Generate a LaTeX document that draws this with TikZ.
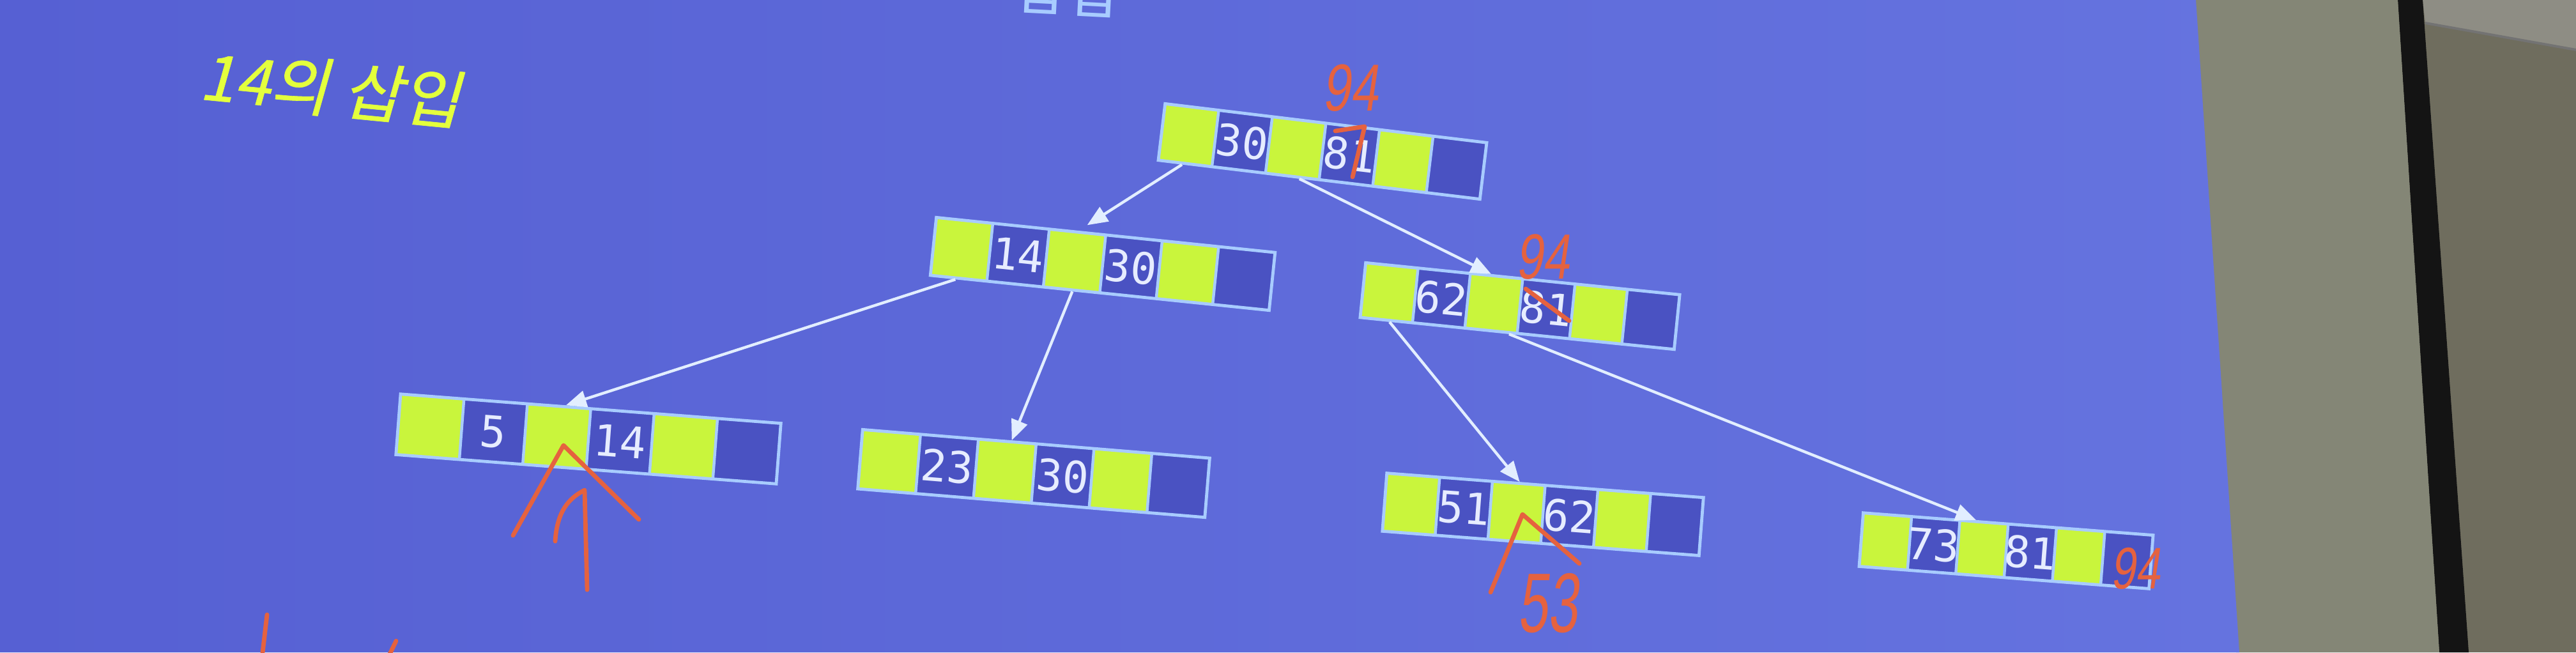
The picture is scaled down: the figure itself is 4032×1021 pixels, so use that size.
\documentclass[tikz,border=0pt]{standalone}
\usepackage{fontspec}
\usetikzlibrary{arrows.meta,calc}
\newfontfamily\keyfont{DejaVu Sans Mono}
\newfontfamily\krfont[FakeSlant=0.18,FakeBold=0.6]{Noto Sans CJK KR}
\newfontfamily\krtitle{Noto Sans CJK KR}
\newfontfamily\handfont[FakeSlant=0.15,FakeStretch=0.75]{Liberation Sans}
\newfontfamily\handnarrow[FakeSlant=0.12,FakeStretch=0.64]{Liberation Sans}

\definecolor{slideL}{HTML}{5660D3}
\definecolor{slideR}{HTML}{6573DF}
\definecolor{cellYc}{HTML}{C9F53C}
\definecolor{cellBc}{HTML}{4A52C2}
\definecolor{cellEdgec}{HTML}{A8CCFF}
\definecolor{linkc}{HTML}{E2EEFF}
\definecolor{keyc}{HTML}{E6ECFF}
\definecolor{inkc}{HTML}{E5623F}
\definecolor{titlec}{HTML}{E4FF3C}
\definecolor{panelc}{HTML}{848676}
\definecolor{wallc}{HTML}{6F6D5E}
\definecolor{ceilc}{HTML}{8E8D84}

\tikzset{
  cellY/.style={fill=cellYc},
  cellB/.style={fill=cellBc},
  celledge/.style={draw=cellEdgec,line width=1.1pt},
  nodebox/.style={draw=cellEdgec,line width=1.2pt,inner sep=0pt,transform shape},
  keytext/.style={text=keyc,font=\keyfont\fontsize{17}{17}\selectfont,inner sep=0pt,transform shape},
  link/.style={draw=linkc,line width=1.1pt,-{Triangle[length=8pt,width=6.5pt]}},
  inkline/.style={draw=inkc,line width=1.7pt,line cap=round,line join=round},
  handtxt/.style={text=inkc,inner sep=0pt},
}

\newcommand\btnode[9]{%
  \begin{scope}[shift={(#2,#3)},rotate=-#4]
    \pgfmathsetmacro\cw{#5/6}
    \pgfmathsetmacro\hh{#6/2}
    \pgfmathsetmacro\xl{-#5/2}
    \foreach \i in {0,2,4}{\fill[cellY] ({\xl+\i*\cw},-\hh) rectangle ({\xl+(\i+1)*\cw},\hh);}
    \foreach \i in {1,3,5}{\fill[cellB] ({\xl+\i*\cw},-\hh) rectangle ({\xl+(\i+1)*\cw},\hh);}
    \foreach \i in {1,...,5}{\draw[celledge] ({\xl+\i*\cw},-\hh) -- ({\xl+\i*\cw},\hh);}
    \node[nodebox,minimum width=#5*0.25pt,minimum height=#6*0.25pt] (#1) at (0,0) {};
    \node[keytext] at ({\xl+1.5*\cw},0) {#7};
    \node[keytext] at ({\xl+3.5*\cw},0) {#8};
    \node[keytext] at ({\xl+5.5*\cw},0) {#9};
  \end{scope}}

\begin{document}
\begin{tikzpicture}[x=0.25pt,y=-0.25pt]
\useasboundingbox (0,0) rectangle (4032,1021);
\clip (0,0) rectangle (4032,1021);

% room and screen
\fill[wallc] (3700,0) rectangle (4032,1021);
\fill[ceilc] (3792,0) -- (4032,0) -- (4032,78) -- (3796,36) -- cycle;
\draw[black!55,line width=1pt] (3796,36) -- (4032,78);
\fill[black!92] (3753,0) -- (3792,0) -- (3864,1021) -- (3818,1021) -- cycle;
\fill[panelc] (3430,0) -- (3753,0) -- (3818,1021) -- (3500,1021) -- cycle;
\shade[left color=slideL,right color=slideR] (0,0) -- (3437,0) -- (3505,1021) -- (0,1021) -- cycle;

% titles
\node[text=cellEdgec,font=\krtitle\fontsize{22}{22}\selectfont,anchor=base,rotate=-3,inner sep=0pt] (title) at (1668,18) {삽입};
\node[text=titlec,font=\krfont\fontsize{25}{25}\selectfont,rotate=-5.6,inner sep=0pt] (sub) at (518,138) {14의 삽입};

% B-tree nodes
\btnode{root}{2070}{237}{6.9}{507}{89}{30}{81}{}
\btnode{l1a}{1726}{413}{5.9}{533}{91}{14}{30}{}
\btnode{l1b}{2379}{479}{5.8}{494}{86}{62}{81}{}
\btnode{lfa}{921}{687}{4.4}{597}{95}{5}{14}{}
\btnode{lfb}{1618}{741}{4.7}{545}{93}{23}{30}{}
\btnode{lfc}{2415}{805}{4.4}{497}{91}{51}{62}{}
\btnode{lfd}{3140}{862}{4.4}{455}{84}{73}{81}{}

% connectors
\draw[link,shorten >=4pt] ($(root.south west)!0.078!(root.south east)$) -- ($(l1a.north west)!0.42!(l1a.north east)$);
\draw[link] ($(root.south west)!0.44!(root.south east)$) -- ($(l1b.north west)!0.40!(l1b.north east)$);
\draw[link] ($(l1a.south west)!0.078!(l1a.south east)$) -- ($(lfa.north west)!0.435!(lfa.north east)$);
\draw[link] ($(l1a.south west)!0.42!(l1a.south east)$) -- ($(lfb.north west)!0.43!(lfb.north east)$);
\draw[link] ($(l1b.south west)!0.098!(l1b.south east)$) -- ($(lfc.north west)!0.42!(lfc.north east)$);
\draw[link] ($(l1b.south west)!0.475!(l1b.south east)$) -- ($(lfd.north west)!0.39!(lfd.north east)$);

% handwritten annotations
\node[handtxt,font=\handfont\fontsize{26}{26}\selectfont] (h1) at (2113,138) {94};
\draw[inkline] (2090,205) -- (2136,198) -- (2117,277);
\node[handtxt,font=\handfont\fontsize{25}{25}\selectfont] (h2) at (2414,402) {94};
\draw[inkline] (2388,452) -- (2456,502);
\node[handtxt,font=\handfont\fontsize{23}{23}\selectfont] (h3) at (3342,890) {94};
\draw[inkline] (803,838) -- (882,697) -- (1000,813);
\draw[inkline] (919,923) -- (915,767) .. controls (890,780) and (872,800) .. (869,847);
\draw[inkline] (2333,927) -- (2383,805) -- (2472,882);
\node[handtxt,font=\handnarrow\fontsize{33}{33}\selectfont] (h4) at (2422,944) {53};
\draw[inkline] (418,962) -- (410,1030);
\draw[inkline] (620,1003) -- (607,1030);
\end{tikzpicture}
\end{document}
